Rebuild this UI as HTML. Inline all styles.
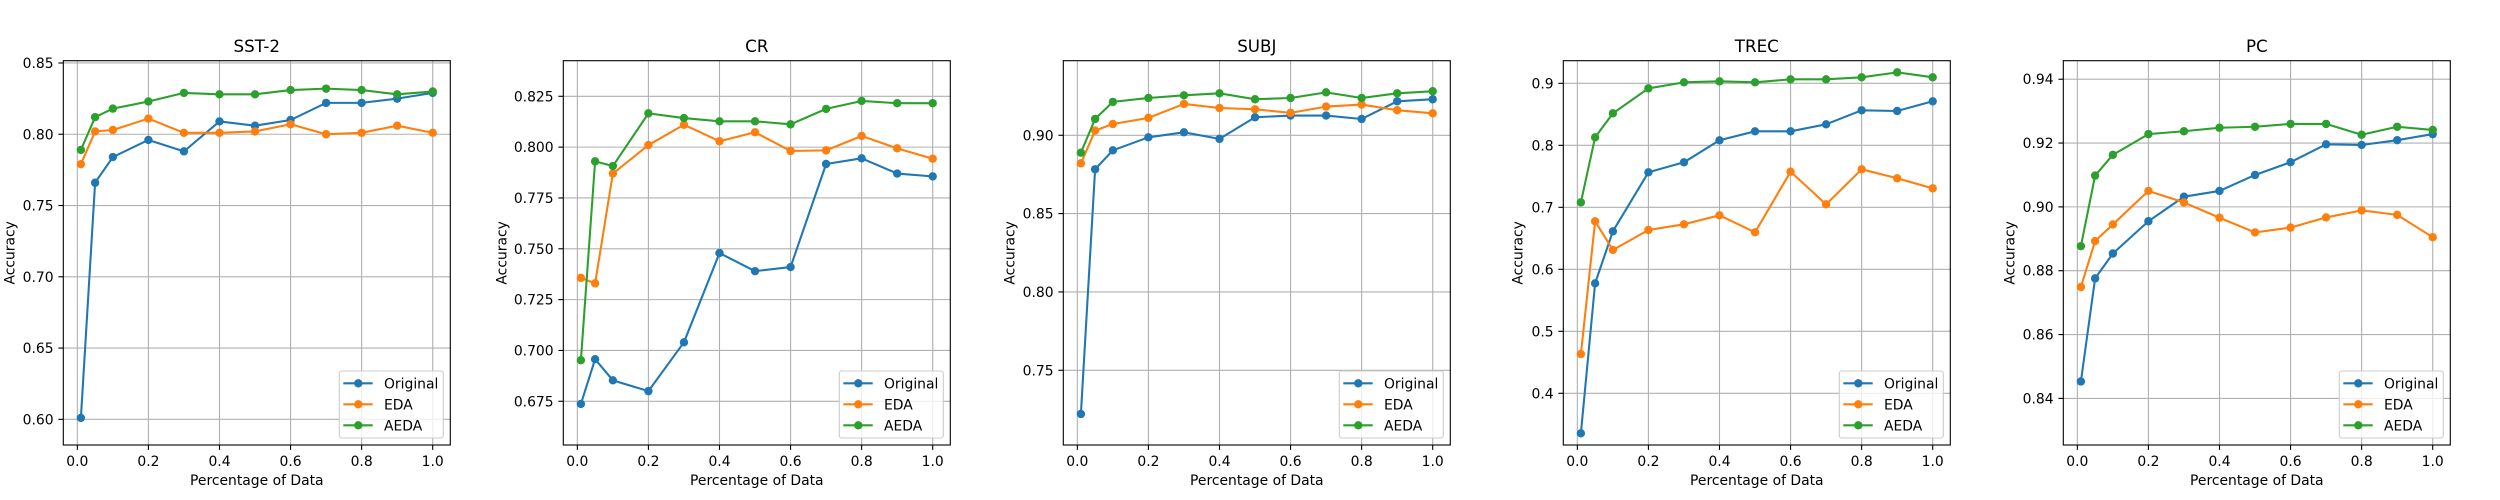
<!DOCTYPE html>
<html><head><meta charset="utf-8">
<style>
html,body{margin:0;padding:0;background:#fff;}
svg{display:block;font-family:"DejaVu Sans","Liberation Sans",sans-serif;}
</style></head>
<body>
<svg id="fig" width="2500" height="500" viewBox="0 0 2500 500" xmlns="http://www.w3.org/2000/svg"></svg>
<script>
const xVals = [0.01,0.05,0.1,0.2,0.3,0.4,0.5,0.6,0.7,0.8,0.9,1.0];
const xTicks = [0.0,0.2,0.4,0.6,0.8,1.0];
const seriesNames = ["Original","EDA","AEDA"];
const seriesColors = ["#1f77b4","#ff7f0e","#2ca02c"];
const panelTitles = ["SST-2","CR","SUBJ","TREC","PC"];

const sstOriginal = [0.601,0.766,0.784,0.796,0.788,0.809,0.806,0.810,0.822,0.822,0.825,0.829];
const sstEDA      = [0.779,0.802,0.803,0.811,0.801,0.801,0.802,0.807,0.800,0.801,0.806,0.801];
const sstAEDA     = [0.789,0.812,0.818,0.823,0.829,0.828,0.828,0.831,0.832,0.831,0.828,0.830];

const crOriginal = [0.6737,0.6957,0.6853,0.680,0.704,0.7479,0.739,0.741,0.7917,0.7945,0.787,0.7856];
const crEDA      = [0.7357,0.733,0.787,0.801,0.811,0.8029,0.8073,0.7981,0.7984,0.8055,0.7994,0.7943];
const crAEDA     = [0.6952,0.793,0.7907,0.8166,0.8143,0.8127,0.8127,0.8112,0.8188,0.8227,0.8216,0.8216];

const subjOriginal = [0.7221,0.8783,0.8904,0.8987,0.9019,0.8977,0.9115,0.9126,0.9126,0.9104,0.9217,0.923];
const subjEDA      = [0.8821,0.903,0.9072,0.9111,0.920,0.9174,0.9166,0.9143,0.9183,0.9196,0.916,0.914];
const subjAEDA     = [0.8889,0.9104,0.9213,0.9238,0.9255,0.9268,0.923,0.9238,0.9274,0.9238,0.9268,0.9281];

const trecOriginal = [0.3355,0.5774,0.6613,0.7565,0.7726,0.8081,0.8226,0.8226,0.8339,0.8565,0.8554,0.871];
const trecEDA      = [0.4634,0.6774,0.6312,0.6634,0.6726,0.6871,0.6597,0.7575,0.7048,0.7613,0.7468,0.7306];
const trecAEDA     = [0.708,0.8129,0.8516,0.8919,0.9016,0.9032,0.9016,0.9065,0.9065,0.9097,0.9177,0.9097];

const pcOriginal = [0.8453,0.8776,0.8854,0.8955,0.9032,0.905,0.910,0.914,0.9196,0.9194,0.9209,0.9228];
const pcEDA      = [0.8749,0.8893,0.8945,0.905,0.9014,0.8966,0.892,0.8935,0.8967,0.8989,0.8975,0.8905];
const pcAEDA     = [0.8877,0.9098,0.9163,0.9228,0.9237,0.9248,0.9251,0.926,0.926,0.9226,0.9251,0.9241];

const sstTicks  = [0.60,0.65,0.70,0.75,0.80,0.85];
const crTicks   = [0.675,0.700,0.725,0.750,0.775,0.800,0.825];
const subjTicks = [0.75,0.80,0.85,0.90];
const trecTicks = [0.4,0.5,0.6,0.7,0.8,0.9];
const pcTicks   = [0.84,0.86,0.88,0.90,0.92,0.94];
const tickDecimals = [2,3,2,1,2];

const yLimits = [[0.582,0.8516],[0.6535,0.8425],[0.7023,0.9476],[0.3166,0.9365],[0.8254,0.9458]];
const xLimit = [-0.0395,1.0495];

const panelData = [
  [sstOriginal,sstEDA,sstAEDA],
  [crOriginal,crEDA,crAEDA],
  [subjOriginal,subjEDA,subjAEDA],
  [trecOriginal,trecEDA,trecAEDA],
  [pcOriginal,pcEDA,pcAEDA]
];
const panelTicks = [sstTicks,crTicks,subjTicks,trecTicks,pcTicks];

const NS = "http://www.w3.org/2000/svg";
const fig = document.getElementById("fig");
function mk(tag, attrs, parent){
  const e = document.createElementNS(NS, tag);
  for (const k in attrs) e.setAttribute(k, attrs[k]);
  parent.appendChild(e);
  return e;
}

const AX_TOP = 60.7, AX_BOT = 445, AX_W = 387;
const ylabelOffsets = [54,62,54,46,54];

panelTitles.forEach((title, p) => {
  const left = 63.3 + 500*p, right = left + AX_W;
  const g = mk("g", {}, fig);
  
  
  const [y0,y1] = yLimits[p];
  const xs = v => left + (v - xLimit[0]) / (xLimit[1]-xLimit[0]) * AX_W;
  const ys = v => AX_BOT - (v - y0) / (y1 - y0) * (AX_BOT - AX_TOP);

  // grid
  xTicks.forEach(t => {
    const l = mk("line", {x1:xs(t),x2:xs(t),y1:AX_TOP,y2:AX_BOT,stroke:"#b0b0b0","stroke-width":1.1}, g);
    
    
  });
  panelTicks[p].forEach(t => {
    const l = mk("line", {x1:left,x2:right,y1:ys(t),y2:ys(t),stroke:"#b0b0b0","stroke-width":1.1}, g);
    
    
  });

  // series
  panelData[p].forEach((vals, s) => {
    const sg = mk("g", {}, g);
    
    
    const pts = vals.map((v,i) => xs(xVals[i]).toFixed(2) + "," + ys(v).toFixed(2)).join(" ");
    const pl = mk("polyline", {points:pts, fill:"none", stroke:seriesColors[s], "stroke-width":2.08, "stroke-linejoin":"round", "stroke-linecap":"square"}, sg);
    
    
    vals.forEach((v,i) => {
      const c = mk("circle", {cx:xs(xVals[i]), cy:ys(v), r:4.2, fill:seriesColors[s]}, sg);
      
      
    });
  });

  // spines
  const box = mk("rect", {x:left,y:AX_TOP,width:AX_W,height:AX_BOT-AX_TOP,fill:"none",stroke:"#000","stroke-width":1.1}, g);
  
  

  // x ticks
  xTicks.forEach(t => {
    mk("line", {x1:xs(t),x2:xs(t),y1:AX_BOT,y2:AX_BOT+4.9,stroke:"#000","stroke-width":1.1}, g);
    const tx = mk("text", {x:xs(t), y:466, "text-anchor":"middle", "font-size":13.9, fill:"#000"}, g);
    tx.textContent = t.toFixed(1);
    
    
  });
  // y ticks
  panelTicks[p].forEach(t => {
    mk("line", {x1:left-4.9,x2:left,y1:ys(t),y2:ys(t),stroke:"#000","stroke-width":1.1}, g);
    const tx = mk("text", {x:left-9.7, y:ys(t)+5, "text-anchor":"end", "font-size":13.9, fill:"#000"}, g);
    tx.textContent = t.toFixed(tickDecimals[p]);
    
    
  });

  // title & labels
  const tt = mk("text", {x:left+AX_W/2, y:52, "text-anchor":"middle", "font-size":16.7, fill:"#000"}, g);
  tt.textContent = title;
  
  
  const xl = mk("text", {x:left+AX_W/2, y:485, "text-anchor":"middle", "font-size":13.9, fill:"#000"}, g);
  xl.textContent = "Percentage of Data";
  
  
  const yx = left - ylabelOffsets[p], yy = (AX_TOP+AX_BOT)/2;
  const yl = mk("text", {x:yx+5, y:yy, "text-anchor":"middle", "font-size":13.9, fill:"#000", transform:"rotate(-90 "+(yx+5)+" "+yy+")"}, g);
  yl.textContent = "Accuracy";
  
  

  // legend
  const lg = mk("g", {}, g);
  
  
  const lx = right - 7 - 104, ly = AX_BOT - 7 - 67;
  mk("rect", {x:lx, y:ly, width:104, height:67, rx:2.5, fill:"#fff", "fill-opacity":0.8, stroke:"#cccccc", "stroke-width":1.1}, lg);
  seriesNames.forEach((n, s) => {
    const e = mk("g", {}, lg);
    
    
    const cy = ly + 12.3 + 21*s;
    mk("line", {x1:lx+4, x2:lx+33.4, y1:cy, y2:cy, stroke:seriesColors[s], "stroke-width":2.08}, e);
    mk("circle", {cx:lx+19, cy:cy, r:4.2, fill:seriesColors[s]}, e);
    const t = mk("text", {x:lx+44.7, y:cy+5, "font-size":13.9, fill:"#000"}, e);
    t.textContent = n;
  });
});
</script>
</body></html>
